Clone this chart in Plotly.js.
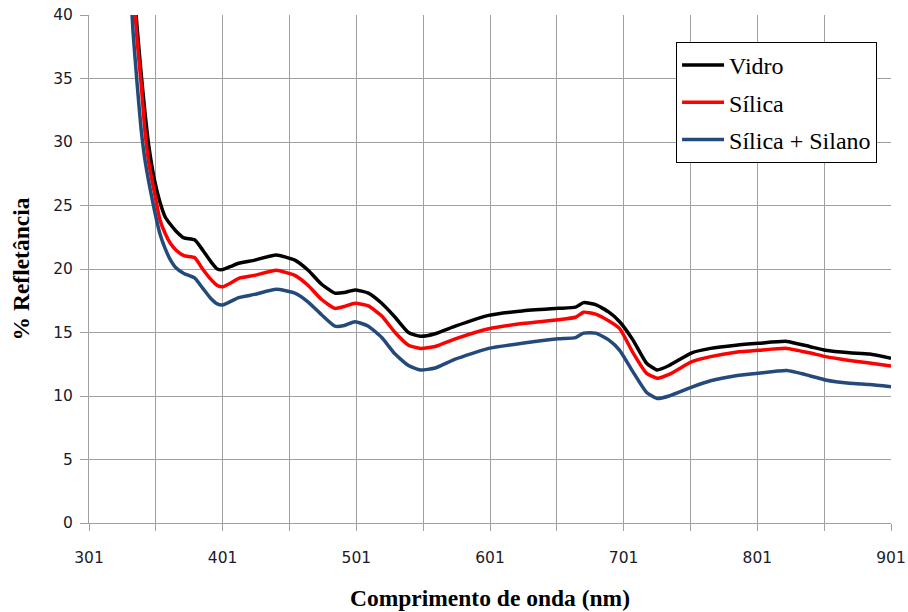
<!DOCTYPE html>
<html>
<head>
<meta charset="utf-8">
<script src="https://cdn.plot.ly/plotly-3.0.1.min.js"></script>
<style>html,body{margin:0;padding:0;background:#fff;}#chart{width:908px;height:612px;}</style>
</head>
<body>
<div id="chart"></div>
<script>
const wavelength = [331, 334, 337, 340, 343, 346, 350, 354, 358, 362, 366, 372, 380, 386, 392, 397, 401, 407, 413, 425, 441, 455, 465, 475, 485, 492, 500, 510, 520, 530, 540, 549, 560, 575, 600, 625, 652, 665, 671, 680, 690, 698, 708, 718, 726, 735, 752, 766, 785, 802, 823, 840, 852, 870, 885, 901];
const vidro = [48, 43, 39, 35.4, 32.2, 29.5, 27.0, 25.3, 24.1, 23.5, 23.0, 22.45, 22.3, 21.5, 20.6, 20.0, 19.95, 20.2, 20.45, 20.7, 21.1, 20.7, 19.9, 18.8, 18.1, 18.15, 18.35, 18.1, 17.3, 16.2, 15.0, 14.7, 14.9, 15.5, 16.35, 16.7, 16.9, 17.0, 17.35, 17.2, 16.6, 15.85, 14.4, 12.6, 12.05, 12.4, 13.4, 13.75, 14.0, 14.15, 14.3, 13.9, 13.6, 13.4, 13.3, 12.97];
const silica = [47, 42.3, 38.0, 34.6, 30.7, 28.2, 26.0, 23.9, 22.8, 22.0, 21.5, 21.05, 20.9, 20.0, 19.2, 18.7, 18.6, 18.9, 19.27, 19.5, 19.9, 19.5, 18.7, 17.6, 16.9, 17.05, 17.3, 17.1, 16.3, 15.0, 14.0, 13.75, 13.9, 14.5, 15.3, 15.7, 16.0, 16.2, 16.6, 16.45, 15.9, 15.3, 13.4, 11.8, 11.4, 11.7, 12.7, 13.1, 13.45, 13.6, 13.75, 13.4, 13.1, 12.8, 12.6, 12.36];
const silicaSilano = [44, 38.6, 34.6, 31.0, 28.5, 26.7, 24.6, 22.8, 21.6, 20.7, 20.1, 19.65, 19.3, 18.5, 17.7, 17.25, 17.17, 17.45, 17.75, 18.0, 18.4, 18.1, 17.4, 16.4, 15.5, 15.55, 15.85, 15.5, 14.6, 13.3, 12.4, 12.05, 12.2, 12.9, 13.75, 14.15, 14.5, 14.6, 14.95, 14.95, 14.4, 13.6, 11.9, 10.3, 9.8, 10.0, 10.7, 11.2, 11.6, 11.8, 12.0, 11.6, 11.26, 11.0, 10.9, 10.73];
const seriesNames = ["Vidro", "Sílica", "Sílica + Silano"];
const xTickVals = [301, 351, 401, 451, 501, 551, 601, 651, 701, 751, 801, 851, 901];
const xTickText = ["301", "", "401", "", "501", "", "601", "", "701", "", "801", "", "901"];
const yTickVals = [0, 5, 10, 15, 20, 25, 30, 35, 40];

const colors = ["#000000", "#FF0000", "#244A7C"];
const ys = [vidro, silica, silicaSilano];
const traces = ys.map((y, i) => ({
  x: wavelength, y: y, type: "scatter", mode: "lines", name: seriesNames[i],
  legendgroup: "g" + i,
  line: {color: colors[i], width: 3.5, shape: "spline", smoothing: 0.5}
}));

const tickFont = {family: "DejaVu Sans, Verdana, sans-serif", size: 15.5, color: "#1a1a2a"};
const titleFont = {family: "Liberation Serif, Times New Roman, serif", size: 23.5, color: "#000", weight: "bold"};
const layout = {
  width: 908, height: 612,
  margin: {l: 89, r: 17, t: 15, b: 89},
  paper_bgcolor: "#fff", plot_bgcolor: "#fff",
  showlegend: true,
  legend: {
    x: 0.732, y: 0.947, xanchor: "left", yanchor: "top",
    bgcolor: "#fff", bordercolor: "#000", borderwidth: 1,
    font: {family: "Liberation Serif, Times New Roman, serif", size: 24, color: "#000"},
    traceorder: "grouped", tracegroupgap: 3, itemwidth: 42
  },
  xaxis: {
    range: [301, 901], tickmode: "array", tickvals: xTickVals, ticktext: xTickText,
    showgrid: true, gridcolor: "#A0A0A0", gridwidth: 1,
    ticks: "outside", ticklen: 7, tickcolor: "#A0A0A0",
    showline: true, linecolor: "#A0A0A0", linewidth: 1,
    zeroline: false, tickfont: tickFont, ticklabelstandoff: 13,
    title: {text: "Comprimento de onda (nm)", standoff: 23, font: titleFont}
  },
  yaxis: {
    range: [0, 40], tickmode: "array", tickvals: yTickVals,
    showgrid: true, gridcolor: "#A0A0A0", gridwidth: 1,
    ticks: "outside", ticklen: 8, tickcolor: "#A0A0A0",
    showline: true, linecolor: "#A0A0A0", linewidth: 1,
    zeroline: false, tickfont: tickFont, ticklabelstandoff: 4,
    title: {text: "% Refletância", standoff: 16, font: titleFont}
  }
};
Plotly.newPlot("chart", traces, layout, {displayModeBar: false, staticPlot: true});
</script>
</body>
</html>
